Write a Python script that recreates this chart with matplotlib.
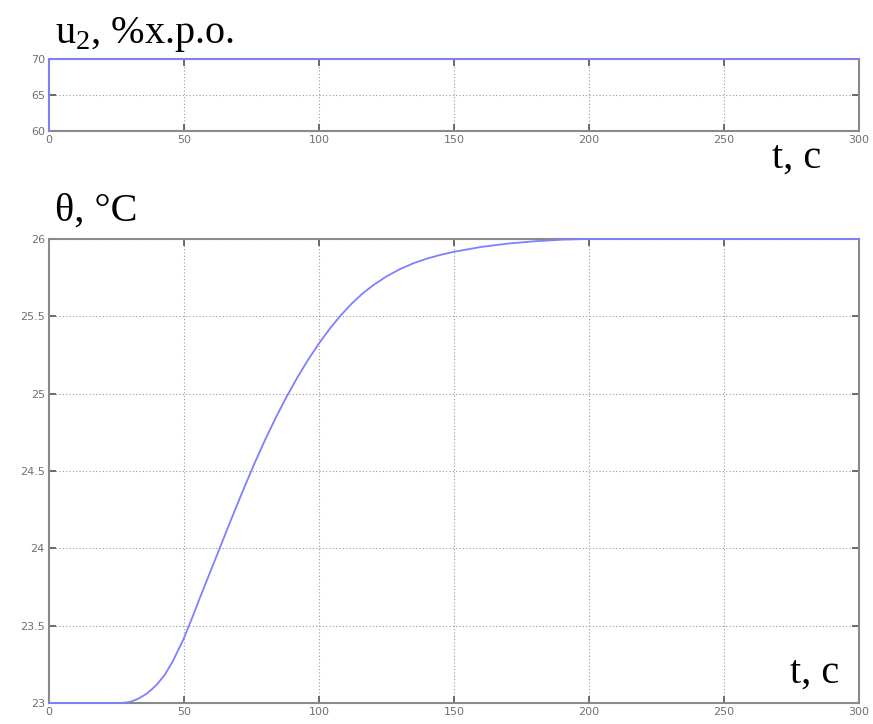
import numpy as np
import matplotlib.pyplot as plt

plt.rcParams["mathtext.fontset"] = "custom"
plt.rcParams["mathtext.rm"] = "Liberation Serif"

# control signal u2, % of actuator travel
t_u = [0, 0, 300]
u2 = [60, 70, 70]

# temperature response
t_theta = [0, 20, 27, 30, 33, 36, 38, 40, 43, 46, 50, 53, 56, 60, 64, 68, 72,
           76, 80, 84, 88, 92, 96, 100, 104, 108, 112, 116, 120, 125, 130,
           135, 140, 145, 150, 160, 170, 180, 190, 200, 300]
theta = [23.0, 23.0, 23.0, 23.007, 23.027, 23.058, 23.087, 23.12, 23.185,
         23.275, 23.42, 23.55, 23.685, 23.86, 24.035, 24.21, 24.38, 24.545,
         24.70, 24.845, 24.98, 25.105, 25.22, 25.325, 25.42, 25.505, 25.58,
         25.645, 25.70, 25.758, 25.805, 25.843, 25.873, 25.897, 25.917,
         25.948, 25.970, 25.985, 25.995, 26.0, 26.0]

line_c = "#7f7fff"
grid_c = "#999999"
spine_c = "#8a8a8a"
tick_c = "#707070"
serif = ["Liberation Serif", "DejaVu Serif"]

fig = plt.figure(figsize=(8.73, 7.24), dpi=100)
ax1 = fig.add_axes([0.0561, 0.819, 0.928, 0.0994])
ax2 = fig.add_axes([0.0561, 0.029, 0.928, 0.641])


def style(ax):
    for s in ax.spines.values():
        s.set_color(spine_c)
        s.set_linewidth(1.5)
    ax.tick_params(direction="in", top=True, right=True, length=5,
                   width=1.2, color="#555555", labelsize=8,
                   labelcolor=tick_c, pad=3)
    ax.grid(True, linestyle=(0, (1, 2)), color=grid_c, linewidth=0.8)
    ax.set_xlim(0, 300)
    ax.set_xticks([0, 50, 100, 150, 200, 250, 300])


ax1.plot(t_u, u2, color=line_c, linewidth=1.3, clip_on=False, zorder=3)
style(ax1)
ax1.set_ylim(60, 70)
ax1.set_yticks([60, 65, 70])

ax2.plot(t_theta, theta, color=line_c, linewidth=1.3, clip_on=False, zorder=3)
style(ax2)
ax2.set_ylim(23, 26)
ax2.set_yticks([23, 23.5, 24, 24.5, 25, 25.5, 26])
ax2.set_yticklabels(["23", "23.5", "24", "24.5", "25", "25.5", "26"])

fig.text(0.063, 0.941, "u$_\\mathrm{2}$, %х.р.о.", fontsize=29, family=serif,
         ha="left", va="baseline")
fig.text(0.063, 0.695, "θ, °C", fontsize=29, family=serif,
         ha="left", va="baseline")
fig.text(0.884, 0.768, "t, с", fontsize=29, family=serif,
         ha="left", va="baseline")
fig.text(0.905, 0.057, "t, с", fontsize=29, family=serif,
         ha="left", va="baseline")

fig.savefig("out.png", dpi=100)
